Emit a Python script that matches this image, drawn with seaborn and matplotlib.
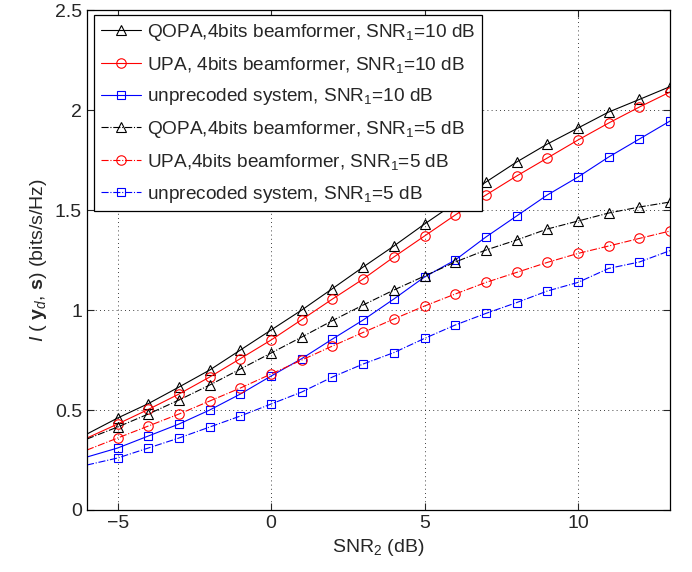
import matplotlib
matplotlib.use("Agg")
import matplotlib.pyplot as plt
import numpy as np
import pandas as pd
import seaborn as sns

# SNR_2 in dB; first point (-6) only carries the line to the left edge
snr2 = [-6, -5, -4, -3, -2, -1, 0, 1, 2, 3, 4, 5, 6, 7, 8, 9, 10, 11, 12, 13]

qopa_10 = [0.38, 0.46, 0.532, 0.615, 0.70, 0.80, 0.90, 1.0, 1.107, 1.215, 1.32,
           1.43, 1.535, 1.64, 1.74, 1.83, 1.91, 1.99, 2.053, 2.117]
upa_10 = [0.36, 0.43, 0.503, 0.58, 0.665, 0.757, 0.85, 0.952, 1.055, 1.155, 1.265,
          1.37, 1.475, 1.575, 1.67, 1.76, 1.85, 1.935, 2.015, 2.09]
unprec_10 = [0.265, 0.31, 0.37, 0.43, 0.50, 0.58, 0.67, 0.757, 0.855, 0.95, 1.055,
             1.165, 1.25, 1.365, 1.47, 1.575, 1.665, 1.765, 1.855, 1.945]
qopa_5 = [0.355, 0.415, 0.48, 0.55, 0.625, 0.705, 0.785, 0.865, 0.947, 1.025, 1.10,
          1.17, 1.24, 1.30, 1.35, 1.405, 1.445, 1.485, 1.515, 1.54]
upa_5 = [0.30, 0.36, 0.42, 0.48, 0.545, 0.61, 0.68, 0.75, 0.82, 0.888, 0.955,
         1.02, 1.08, 1.138, 1.188, 1.238, 1.283, 1.32, 1.358, 1.395]
unprec_5 = [0.225, 0.26, 0.31, 0.36, 0.415, 0.47, 0.53, 0.59, 0.665, 0.73, 0.787,
            0.858, 0.925, 0.983, 1.037, 1.095, 1.138, 1.208, 1.24, 1.297]

labels = [
    "QOPA,4bits beamformer, SNR$_1$=10 dB",
    "UPA, 4bits beamformer, SNR$_1$=10 dB",
    "unprecoded system, SNR$_1$=10 dB",
    "QOPA,4bits beamformer, SNR$_1$=5 dB",
    "UPA,4bits beamformer, SNR$_1$=5 dB",
    "unprecoded system, SNR$_1$=5 dB",
]
series = [qopa_10, upa_10, unprec_10, qopa_5, upa_5, unprec_5]
colors = ["black", "red", "blue", "black", "red", "blue"]
markers = ["^", "o", "s", "^", "o", "s"]
msizes = [7, 6.8, 5.8, 7, 6.8, 5.8]
styles = ["-", "-", "-", "-.", "-.", "-."]

sns.set_style("white")
plt.rcParams["font.family"] = ["Liberation Sans", "DejaVu Sans"]
plt.rcParams["mathtext.fontset"] = "custom"
plt.rcParams["mathtext.rm"] = "Liberation Sans"
plt.rcParams["mathtext.it"] = "Liberation Sans:italic"
plt.rcParams["mathtext.bf"] = "Liberation Sans:bold"

fig = plt.figure(figsize=(6.92, 5.72), dpi=100)
ax = fig.add_axes([0.1257, 0.1084, 0.8425, 0.874])

for vals, label, c, m, ms, ls in zip(series, labels, colors, markers, msizes, styles):
    df = pd.DataFrame({"snr2": snr2, "I": vals})
    sns.lineplot(
        data=df, x="snr2", y="I", ax=ax, color=c, linestyle=ls, linewidth=0.8,
        marker=m, markersize=ms, markerfacecolor="none", markeredgecolor=c,
        markeredgewidth=0.8, markevery=list(range(1, len(snr2))), label=label,
    )

ax.set_xlim(-6, 13)
ax.set_ylim(0, 2.5)
ax.set_xticks([-5, 0, 5, 10])
ax.set_xticklabels(["\u22125", "0", "5", "10"])
ax.set_yticks([0, 0.5, 1, 1.5, 2, 2.5])
ax.set_yticklabels(["0", "0.5", "1", "1.5", "2", "2.5"])
ax.grid(True, linestyle=(0, (1, 4)), color="black", linewidth=0.6)
ax.tick_params(direction="in", labelsize=14, length=5, width=0.8,
               top=True, right=True, bottom=True, left=True)
for s in ax.spines.values():
    s.set_linewidth(0.9)
    s.set_color("black")

ax.set_xlabel("SNR$_2$ (dB)", fontsize=14)
ax.set_ylabel(r"$I$ ( $\mathbf{y}_d$, $\mathbf{s}$) (bits/s/Hz)", fontsize=14)

ax.legend(loc="upper left", bbox_to_anchor=(0.012, 0.99), fontsize=13.7,
          frameon=True, fancybox=False, edgecolor="black", framealpha=1,
          handlelength=2.1, labelspacing=0.62, borderaxespad=0,
          handletextpad=0.35, borderpad=0.35)
ax.get_legend().get_frame().set_linewidth(0.9)

fig.savefig("out.png", dpi=100)
